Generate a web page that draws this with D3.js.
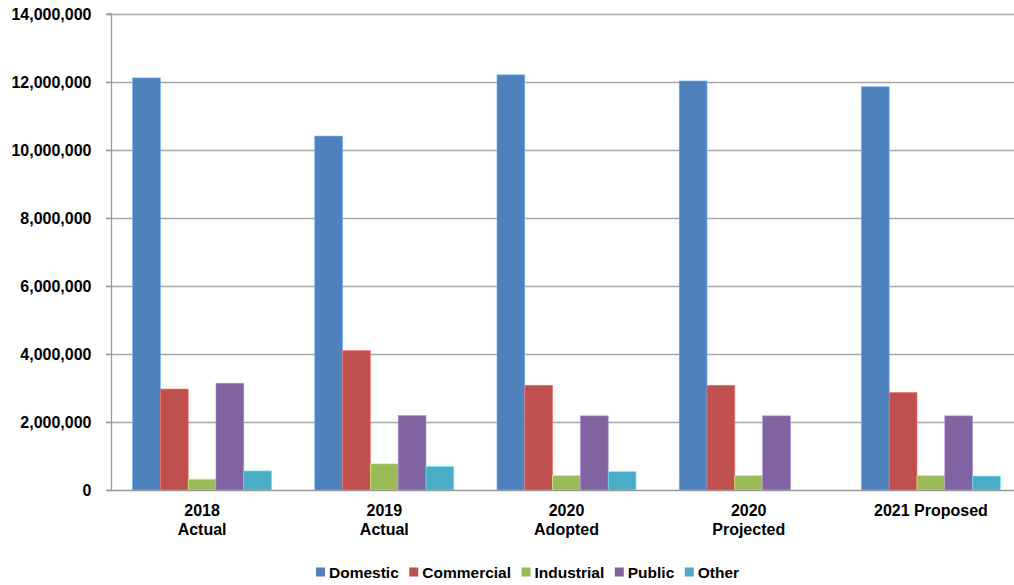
<!DOCTYPE html>
<html><head><meta charset="utf-8">
<script src="https://cdn.jsdelivr.net/npm/d3@7"></script>
<style>body{margin:0;background:#fff;overflow:hidden}svg{display:block}</style>
</head><body>
<svg id="c" width="1014" height="585"></svg>
<script>
const categories = [["2018","Actual"],["2019","Actual"],["2020","Adopted"],["2020","Projected"],["2021 Proposed"]];
const seriesNames = ["Domestic","Commercial","Industrial","Public","Other"];
const domestic   = [12120000, 10410000, 12210000, 12030000, 11860000];
const commercial = [2970000, 4100000, 3080000, 3080000, 2870000];
const industrial = [320000, 770000, 430000, 430000, 430000];
const publicVals = [3140000, 2190000, 2180000, 2180000, 2180000];
const other      = [560000, 690000, 540000, 0, 410000];
const yTicks = [0,2000000,4000000,6000000,8000000,10000000,12000000,14000000];
const colors = ["#4F81BD","#C0504D","#9BBB59","#8064A2","#4BACC6"];

const values = [domestic, commercial, industrial, publicVals, other];
const svg = d3.select("#c");
const font = "'Liberation Sans', Arial, sans-serif";
const L = 111, R = 1022, T = 14, B = 490;

const x0 = d3.scaleBand().domain(d3.range(categories.length)).range([L, R]).padding(0);
const gap = (x0.bandwidth() - 139) / 2;
const x1 = d3.scaleBand().domain(seriesNames).range([gap, x0.bandwidth() - gap]).padding(0);
const y = d3.scaleLinear().domain([0, 14000000]).range([B, T]);

// gridlines
svg.append("g").selectAll("line").data(yTicks.filter(d => d > 0)).join("line")
  .attr("x1", L - 5).attr("x2", R).attr("y1", d => Math.round(y(d)) + 0.5).attr("y2", d => Math.round(y(d)) + 0.5)
  .attr("stroke", "#a6a6a6").attr("stroke-width", 1.3);

// bars
const g = svg.append("g");
categories.forEach((c, i) => {
  seriesNames.forEach((s, j) => {
    const v = values[j][i];
    if (!v) return;
    g.append("rect")
      .attr("x", x0(i) + x1(s)).attr("width", x1.bandwidth())
      .attr("y", y(v)).attr("height", B - y(v))
      .attr("fill", colors[j])
      .attr("stroke", d3.color(colors[j]).brighter(0.9)).attr("stroke-width", 0.6);
  });
});

// y axis
const ya = svg.append("g").attr("transform", `translate(${L + 0.5},0)`)
  .call(d3.axisLeft(y).tickValues(yTicks).tickSize(5).tickPadding(15).tickFormat(d3.format(",")));
ya.select(".domain").attr("stroke", "#999").attr("stroke-width", 1.3).attr("d", `M-5,${T}H0V${B}`);
ya.selectAll(".tick line").attr("stroke", "#999").attr("stroke-width", 1.3);
ya.selectAll(".tick text").attr("font-family", font).attr("font-size", 16).attr("font-weight", "bold").attr("fill", "#000");

// x baseline
svg.append("line").attr("x1", L - 5).attr("x2", R).attr("y1", B + 0.5).attr("y2", B + 0.5)
  .attr("stroke", "#999").attr("stroke-width", 1.3);

// x labels
categories.forEach((c, i) => {
  const cx = x0(i) + x0.bandwidth() / 2;
  const t = svg.append("text").attr("x", cx).attr("y", 516)
    .attr("text-anchor", "middle").attr("font-family", font).attr("font-size", 16).attr("font-weight", "bold").attr("fill", "#000");
  c.forEach((line, k) => t.append("tspan").attr("x", cx).attr("dy", k === 0 ? 0 : 19).text(line));
});

// legend
const lg = svg.append("g");
let lx = 316;
seriesNames.forEach((s, j) => {
  lg.append("rect").attr("x", lx).attr("y", 567.5).attr("width", 9).attr("height", 9).attr("fill", colors[j]);
  const t = lg.append("text").attr("x", lx + 13).attr("y", 578).attr("font-family", font).attr("font-size", 15.5)
    .attr("font-weight", "bold").attr("fill", "#000").text(s);
  lx += 13 + t.node().getComputedTextLength() + 10.5;
});
</script>
</body></html>
